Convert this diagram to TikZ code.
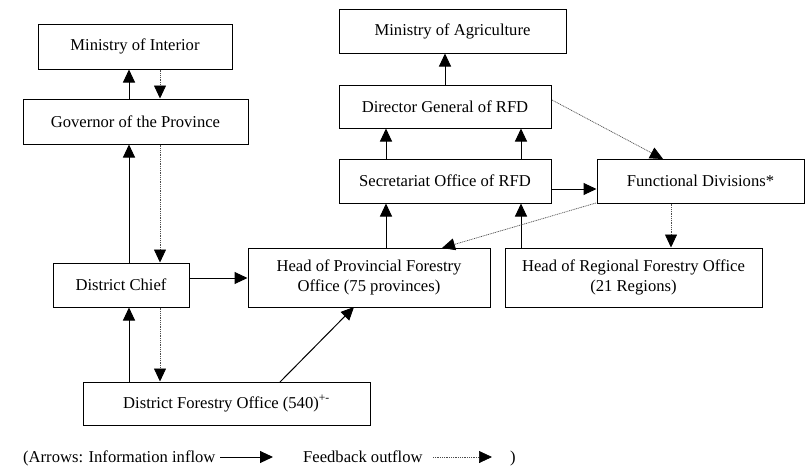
\documentclass[tikz,border=0pt]{standalone}
\usepackage{fontspec}
\setmainfont{Liberation Serif}
\usetikzlibrary{arrows.meta}
\begin{document}
\begin{tikzpicture}[x=1pt,y=-1pt,
  box/.style={draw=black, line width=1pt, rectangle, inner sep=0pt, align=center,
    font=\fontsize{16.6}{20}\selectfont},
  inflow/.style={draw=black, line width=1pt, -{Triangle[length=13pt,width=12pt]}},
  outflow/.style={draw=black!70, line width=0.7pt, dash pattern=on 1pt off 0.8pt,
    -{Triangle[length=13pt,width=12pt,fill=black,color=black]}},
  legend/.style={font=\fontsize{16.6}{20}\selectfont, inner sep=0pt, anchor=base west}]
\useasboundingbox (0,0) rectangle (805,466);
% nodes
\node[box, minimum width=194pt, minimum height=45pt] (moi) at (135,46.5) {Ministry of Interior};
\node[box, minimum width=225pt, minimum height=45pt] (gov) at (135.5,121.5) {Governor of the Province};
\node[box, minimum width=136pt, minimum height=44pt] (dc) at (121,285) {District Chief};
\node[box, minimum width=287pt, minimum height=43pt] (dfo) at (226.5,403.5) {District Forestry Office (540)\textsuperscript{+-}};
\node[box, minimum width=242pt, minimum height=59pt] (hpf) at (369,277.5) {Head of Provincial Forestry\\Office (75 provinces)};
\node[box, minimum width=227pt, minimum height=44pt] (moa) at (452.5,31) {Ministry of Agriculture};
\node[box, minimum width=212pt, minimum height=43pt] (dg) at (445,106.5) {Director General of RFD};
\node[box, minimum width=212pt, minimum height=44pt] (sec) at (445,181) {Secretariat Office of RFD};
\node[box, minimum width=207pt, minimum height=44pt] (fd) at (700.5,181) {Functional Divisions*};
\node[box, minimum width=257pt, minimum height=59pt] (hrf) at (633.5,277.5) {Head of Regional Forestry Office\\(21 Regions)};
% helper coordinates
\coordinate (xa) at (129,0);
\coordinate (xb) at (160,0);
\coordinate (xc) at (386,0);
\coordinate (xd) at (521,0);
\coordinate (xe) at (445,0);
\coordinate (xf) at (671,0);
\coordinate (ya) at (0,278);
\coordinate (yb) at (0,189);
% left column
\draw[inflow] (gov.north -| xa) -- (moi.south -| xa);
\draw[outflow] (moi.south -| xb) -- (gov.north -| xb);
\draw[inflow] (dc.north -| xa) -- (gov.south -| xa);
\draw[outflow] (gov.south -| xb) -- (dc.north -| xb);
\draw[inflow] (dfo.north -| xa) -- (dc.south -| xa);
\draw[outflow] (dc.south -| xb) -- (dfo.north -| xb);
\draw[inflow] (dc.east |- ya) -- (hpf.west |- ya);
\coordinate (dfoa) at (280,382);
\coordinate (hpfa) at (354,307);
\draw[inflow] (dfoa) -- (hpfa);
% right part
\draw[inflow] (hpf.north -| xc) -- (sec.south -| xc);
\draw[inflow] (hrf.north -| xd) -- (sec.south -| xd);
\draw[inflow] (sec.north -| xc) -- (dg.south -| xc);
\draw[inflow] (sec.north -| xd) -- (dg.south -| xd);
\draw[inflow] (dg.north -| xe) -- (moa.south -| xe);
\draw[inflow] (sec.east |- yb) -- (fd.west |- yb);
\coordinate (dga) at (552,100);
\coordinate (fda) at (663,159);
\draw[outflow] (dga) -- (fda);
\coordinate (fdb) at (596,203);
\coordinate (hpfb) at (442,248);
\draw[outflow] (fdb) -- (hpfb);
\draw[outflow] (fd.south -| xf) -- (hrf.north -| xf);
% legend
\node[legend] (l1) at (23,462) {(Arrows: Information inflow};
\coordinate (la) at (220,457);
\coordinate (lb) at (273,457);
\draw[inflow] (la) -- (lb);
\node[legend] (l2) at (303,462) {Feedback outflow};
\coordinate (lc) at (433,457);
\coordinate (ld) at (492,457);
\draw[outflow] (lc) -- (ld);
\node[legend] (l3) at (510,462) {)};
\end{tikzpicture}
\end{document}
